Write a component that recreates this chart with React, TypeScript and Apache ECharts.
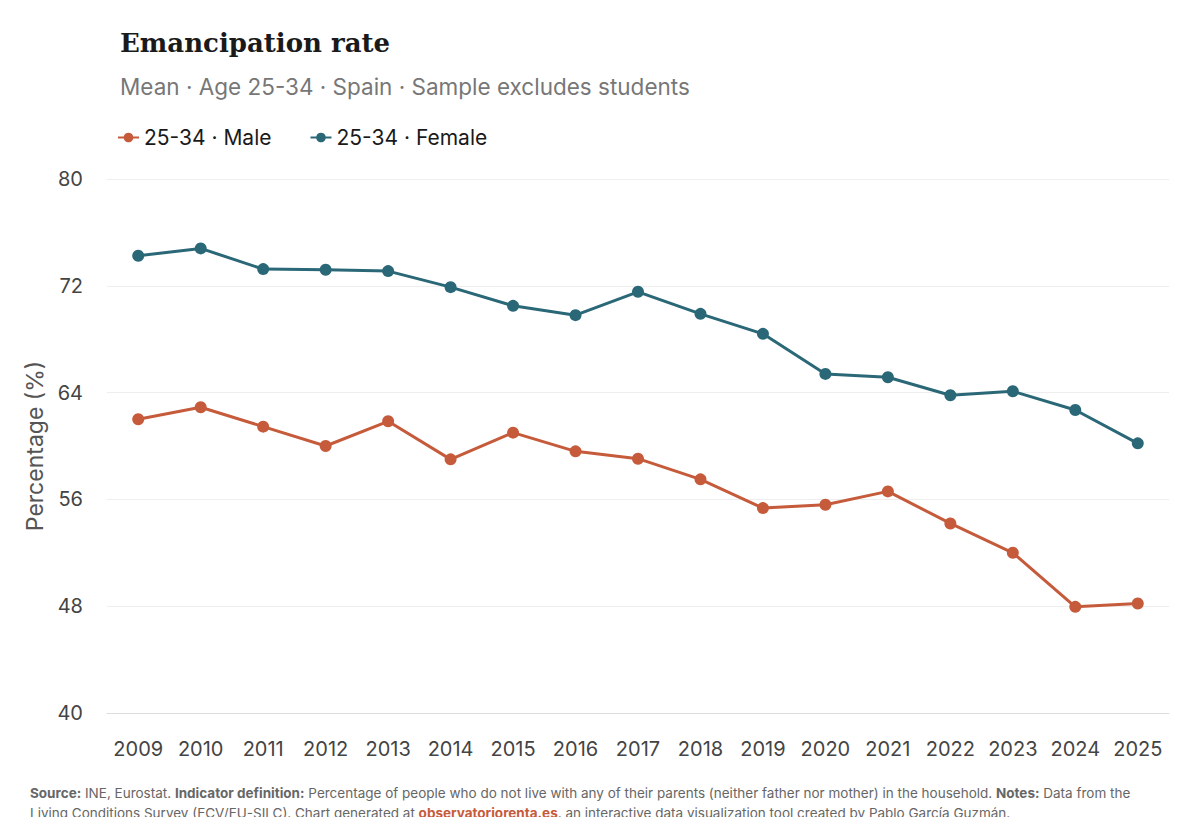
import React, { useEffect, useRef } from 'react';
import * as echarts from 'echarts';
import type { EChartsOption } from 'echarts';

const years = [
  '2009', '2010', '2011', '2012', '2013', '2014', '2015', '2016', '2017',
  '2018', '2019', '2020', '2021', '2022', '2023', '2024', '2025',
];

const maleRate = [
  62.0, 62.9, 61.45, 60.0, 61.85, 59.0, 61.0, 59.6, 59.05,
  57.5, 55.35, 55.6, 56.6, 54.2, 52.0, 47.95, 48.2,
];

const femaleRate = [
  74.25, 74.8, 73.25, 73.2, 73.1, 71.9, 70.5, 69.8, 71.55,
  69.9, 68.4, 65.4, 65.15, 63.8, 64.1, 62.7, 60.2,
];

const MALE = '#c65b3b';
const FEMALE = '#2b6877';
const SANS = 'Inter, "Noto Sans", sans-serif';

const EmancipationChart: React.FC = () => {
  const chartRef = useRef<HTMLDivElement>(null);

  useEffect(() => {
    if (!chartRef.current) return;

    const chart = echarts.init(chartRef.current, undefined, { renderer: 'svg' });

    const option: EChartsOption = {
      animation: false,
      backgroundColor: '#ffffff',
      title: [
        {
          text: 'Emancipation rate',
          left: 120,
          top: 30,
          padding: 0,
          textStyle: {
            fontFamily: '"DejaVu Serif", serif',
            fontWeight: 'bold',
            fontSize: 26,
            color: '#1a1a1a',
          },
        },
        {
          text: 'Mean · Age 25-34 · Spain · Sample excludes students',
          left: 120,
          top: 75,
          padding: 0,
          textStyle: {
            fontFamily: SANS,
            fontWeight: 'normal',
            fontSize: 22.5,
            color: '#777777',
          },
        },
        {
          text:
            '{b|Source:} INE, Eurostat. {b|Indicator definition:} Percentage of people who do not live with any of their parents (neither father nor mother) in the household. {b|Notes:} Data from the\n' +
            'Living Conditions Survey (ECV/EU-SILC). Chart generated at {l|observatoriorenta.es}, an interactive data visualization tool created by Pablo García Guzmán.',
          left: 30,
          top: 783,
          padding: 0,
          textStyle: {
            fontFamily: SANS,
            fontWeight: 'normal',
            fontSize: 13.5,
            color: '#666666',
            lineHeight: 20,
            rich: {
              b: { fontFamily: SANS, fontWeight: 'bold', fontSize: 13.5, color: '#666666', lineHeight: 20 },
              l: { fontFamily: SANS, fontWeight: 'bold', fontSize: 13.5, color: '#c65b3b', lineHeight: 20 },
            },
          },
        },
      ],
      legend: {
        left: 117,
        top: 127,
        padding: 0,
        itemWidth: 21,
        itemHeight: 12,
        itemGap: 38,
        textStyle: { fontFamily: SANS, fontSize: 21, color: '#1a1a1a' },
        data: ['25-34 · Male', '25-34 · Female'],
      },
      grid: {
        left: 107,
        right: 31,
        top: 179,
        bottom: 112,
      },
      xAxis: {
        type: 'category',
        data: years,
        boundaryGap: true,
        axisLine: { show: true, lineStyle: { color: '#dddddd' } },
        axisTick: { show: false },
        axisLabel: {
          fontFamily: SANS,
          fontSize: 20,
          color: '#444444',
          margin: 26,
          interval: 0,
        },
      },
      yAxis: {
        type: 'value',
        min: 40,
        max: 80,
        interval: 8,
        name: 'Percentage (%)',
        nameLocation: 'middle',
        nameGap: 60,
        nameTextStyle: { fontFamily: SANS, fontSize: 23, color: '#555555' },
        axisLine: { show: false },
        axisTick: { show: false },
        axisLabel: {
          fontFamily: SANS,
          fontSize: 20,
          color: '#444444',
          margin: 24,
        },
        splitLine: { lineStyle: { color: '#eeeeee' } },
      },
      series: [
        {
          name: '25-34 · Male',
          type: 'line',
          data: maleRate,
          symbol: 'circle',
          symbolSize: 12,
          lineStyle: { color: MALE, width: 3 },
          itemStyle: { color: MALE },
        },
        {
          name: '25-34 · Female',
          type: 'line',
          data: femaleRate,
          symbol: 'circle',
          symbolSize: 12,
          lineStyle: { color: FEMALE, width: 3 },
          itemStyle: { color: FEMALE },
        },
      ],
    };

    chart.setOption(option);

    const handleResize = () => chart.resize();
    window.addEventListener('resize', handleResize);

    return () => {
      window.removeEventListener('resize', handleResize);
      chart.dispose();
    };
  }, []);

  return <div ref={chartRef} style={{ width: '1200px', height: '825px' }} />;
};

export default function App() {
  return (
    <div style={{ margin: -8 }}>
      <EmancipationChart />
    </div>
  );
}
